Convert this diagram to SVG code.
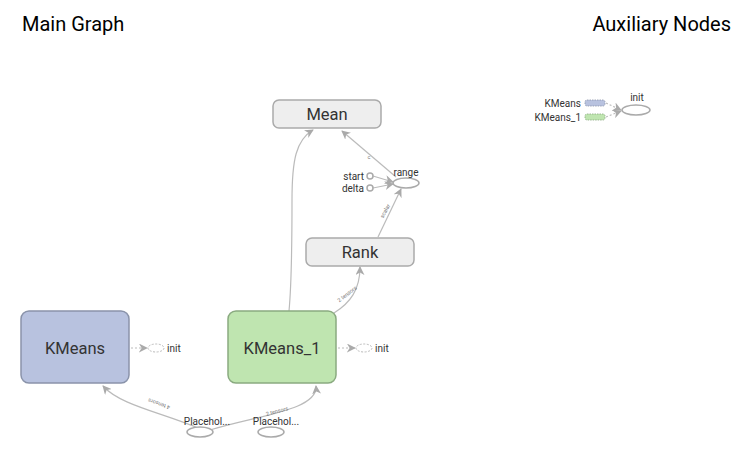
<svg xmlns="http://www.w3.org/2000/svg" width="744" height="472" viewBox="0 0 744 472">
<defs>
<style>
.title{font-family:Roboto,"Liberation Sans",sans-serif;font-size:20px;fill:#000}
.nlabel{font-family:Roboto,"Liberation Sans",sans-serif;font-size:16.5px;fill:#333;text-anchor:middle;dominant-baseline:central}
.small{font-family:Roboto,"Liberation Sans",sans-serif;font-size:10px;fill:#333;dominant-baseline:central}
.elabel{font-family:Roboto,"Liberation Sans",sans-serif;font-size:5.5px;fill:#777;text-anchor:middle;dominant-baseline:central}
.op{fill:#eee;stroke:#aaa;stroke-width:1.5}
.km{fill:#b8c2df;stroke:#8a93aa;stroke-width:1.5}
.km1{fill:#bfe5b0;stroke:#8aaa80;stroke-width:1.5}
.ell{fill:#fff;stroke:#aaa;stroke-width:1.5}
.edge{fill:none;stroke:#bbb;stroke-width:1.2}
.dash{fill:none;stroke:#bbb;stroke-width:1.2;stroke-dasharray:2,2}
.dell{fill:#fff;stroke:#bbb;stroke-width:1;stroke-dasharray:2,1.5}
</style>
<marker id="arr" viewBox="0 0 10 10" refX="9" refY="5" markerWidth="9" markerHeight="9" markerUnits="userSpaceOnUse" orient="auto">
<path d="M0,0 L10,5 L0,10 L3,5 z" fill="#aaa"/>
</marker>
</defs>
<rect width="744" height="472" fill="#fff"/>
<text class="title" x="22" y="31">Main Graph</text>
<text class="title" x="731" y="31" text-anchor="end">Auxiliary Nodes</text>

<g id="connectors">
<path class="edge" d="M289,311 C291,290 292,270 292,200 C292,160 296,140 313,130" marker-end="url(#arr)"/>
<path class="edge" d="M396,177 L342,131" marker-end="url(#arr)"/>
<path class="edge" d="M373,176 L393,182" marker-end="url(#arr)"/>
<path class="edge" d="M373,188 L393,184" marker-end="url(#arr)"/>
<path class="edge" d="M378,237 L401,189" marker-end="url(#arr)"/>
<path class="edge" d="M334,313 C350,303 360,290 360,267" marker-end="url(#arr)"/>
<path class="edge" d="M198,428 C160,412 120,405 103,386" marker-end="url(#arr)"/>
<path class="edge" d="M210,430 C260,415 318,410 316,386" marker-end="url(#arr)"/>
<path class="dash" d="M131,348 L147,348" marker-end="url(#arr)"/>
<path class="dash" d="M338,348 L355,348" marker-end="url(#arr)"/>
<path class="dash" d="M606,103 L621,110" marker-end="url(#arr)"/>
<path class="dash" d="M606,117 L621,111" marker-end="url(#arr)"/>
<text class="elabel" x="369" y="157">c</text>
<text class="elabel" transform="translate(385,211) rotate(-62)">scalar</text>
<text class="elabel" transform="translate(347,294) rotate(-38)">2 tensors</text>
<text class="elabel" transform="translate(159,404) rotate(200)">4 tensors</text>
<text class="elabel" transform="translate(277,411) rotate(-15)">2 tensors</text>
</g>

<g id="Mean">
<rect class="op" x="273" y="100" width="108" height="28" rx="6"/>
<text class="nlabel" x="327" y="114">Mean</text>
</g>
<g id="Rank">
<rect class="op" x="306" y="238" width="108" height="28" rx="6"/>
<text class="nlabel" x="360" y="252">Rank</text>
</g>
<g id="range">
<ellipse class="ell" cx="406" cy="183" rx="13" ry="5"/>
<text class="small" x="406" y="172" text-anchor="middle">range</text>
</g>
<g id="start">
<circle class="ell" cx="370" cy="176" r="3"/>
<text class="small" x="364" y="176" text-anchor="end" font-size="8.5">start</text>
</g>
<g id="delta">
<circle class="ell" cx="370" cy="188" r="3"/>
<text class="small" x="364" y="188" text-anchor="end" font-size="8.5">delta</text>
</g>
<g id="KMeans">
<rect class="km" x="21" y="311" width="108" height="72" rx="8"/>
<text class="nlabel" x="75" y="348">KMeans</text>
</g>
<g id="KMeans_1">
<rect class="km1" x="228" y="311" width="108" height="72" rx="8"/>
<text class="nlabel" x="282" y="348">KMeans_1</text>
</g>
<g id="KMeans_init">
<ellipse class="dell" cx="156" cy="348" rx="8" ry="4"/>
<text class="small" x="167" y="348" font-size="8.5">init</text>
</g>
<g id="KMeans_1_init">
<ellipse class="dell" cx="364" cy="348" rx="8" ry="4"/>
<text class="small" x="375" y="348" font-size="8.5">init</text>
</g>
<g id="Placeholder">
<ellipse class="ell" cx="200" cy="432" rx="13" ry="5"/>
<text class="small" x="207" y="421" text-anchor="middle" font-size="12.5">Placehol...</text>
</g>
<g id="Placeholder_1">
<ellipse class="ell" cx="271" cy="432" rx="13" ry="5"/>
<text class="small" x="276" y="421" text-anchor="middle" font-size="12.5">Placehol...</text>
</g>
<g id="aux_KMeans">
<rect x="585" y="100" width="20" height="6" rx="2" fill="#b8c2df" stroke="#8a93aa" stroke-width="0.8" stroke-dasharray="1.5,1"/>
<text class="small" x="581" y="103" text-anchor="end" font-size="8.5">KMeans</text>
</g>
<g id="aux_KMeans_1">
<rect x="585" y="114" width="20" height="6" rx="2" fill="#bfe5b0" stroke="#8aaa80" stroke-width="0.8" stroke-dasharray="1.5,1"/>
<text class="small" x="581" y="117" text-anchor="end" font-size="8.5">KMeans_1</text>
</g>
<g id="aux_init">
<ellipse class="ell" cx="636" cy="110" rx="14" ry="5"/>
<text class="small" x="637" y="97" text-anchor="middle">init</text>
</g>
</svg>
